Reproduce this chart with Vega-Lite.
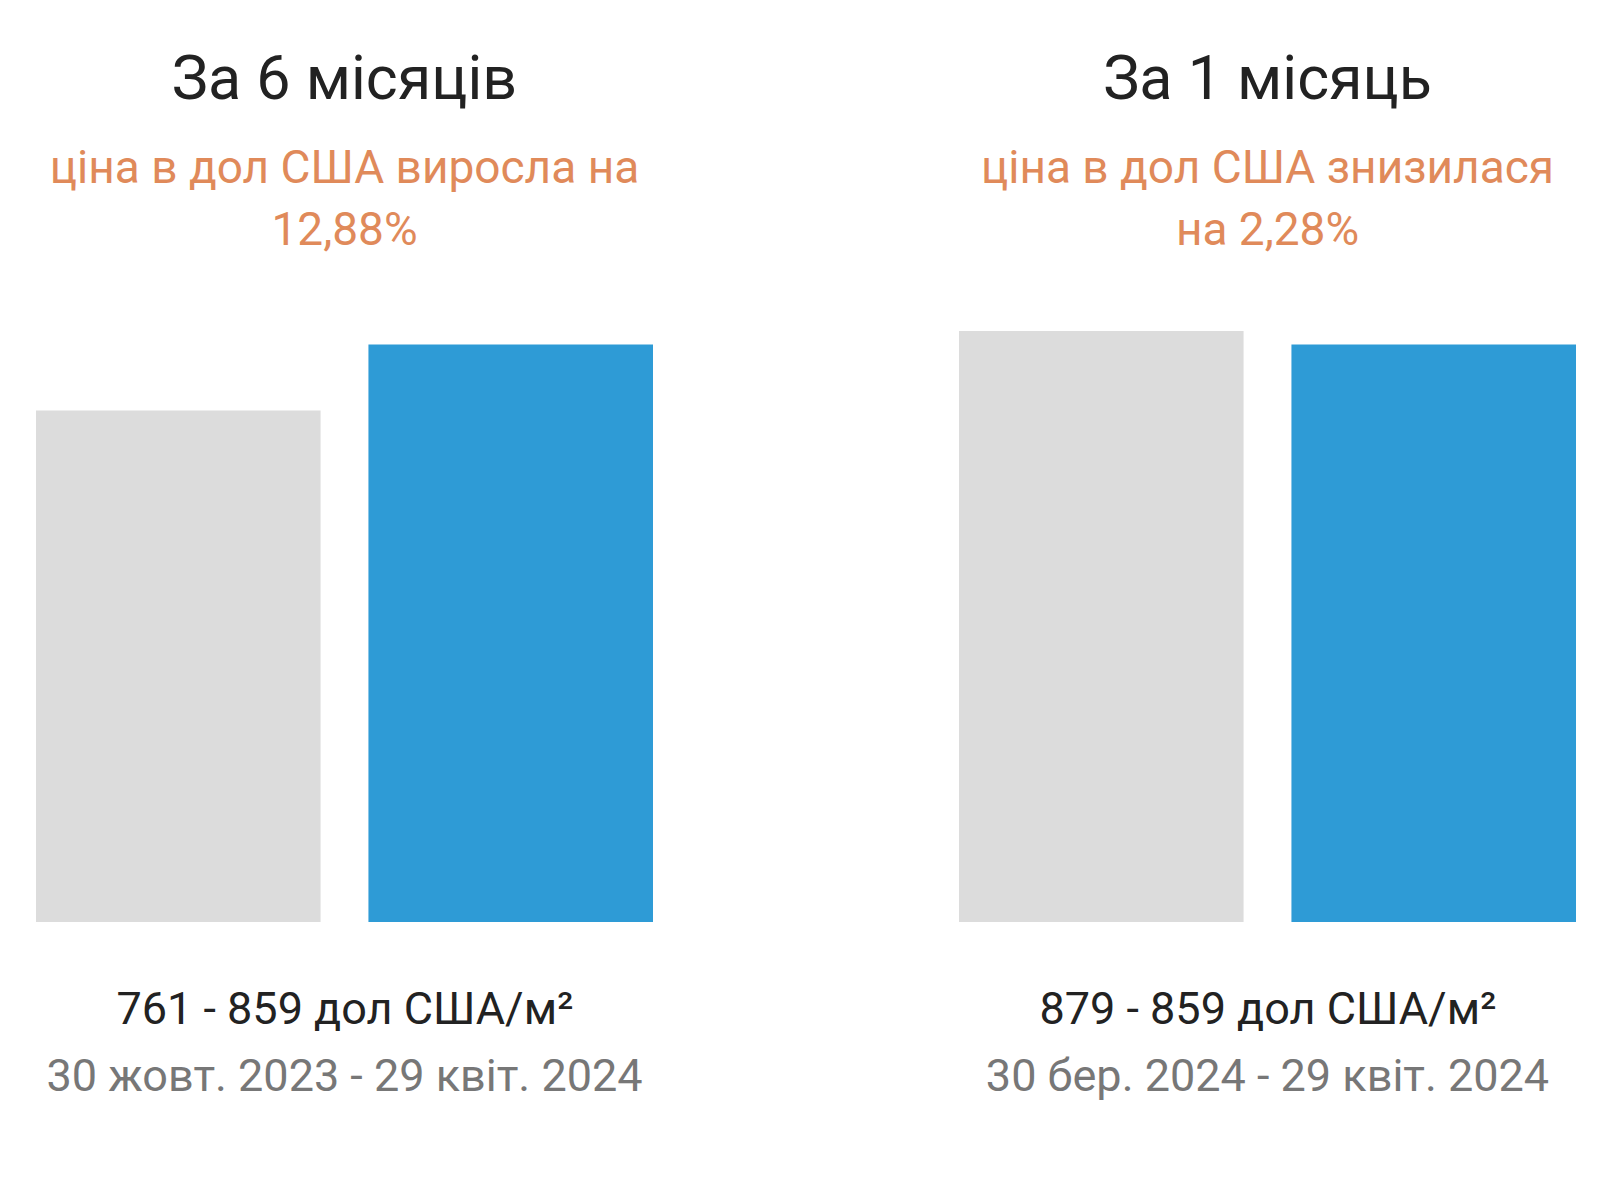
{
  "$schema": "https://vega.github.io/schema/vega-lite/v6.json",
  "background": "white",
  "padding": {"left": 36, "top": 50, "right": 0, "bottom": 30},
  "config": {
    "view": {"stroke": null},
    "font": "Roboto",
    "concat": {"spacing": 306}
  },
  "datasets": {
    "six": [
      {"period": "30 жовт. 2023", "price": 761, "kind": "start"},
      {"period": "29 квіт. 2024", "price": 859, "kind": "end"}
    ],
    "one": [
      {"period": "30 бер. 2024", "price": 879, "kind": "start"},
      {"period": "29 квіт. 2024", "price": 859, "kind": "end"}
    ]
  },
  "hconcat": [
    {
      "title": {"text": "30 жовт. 2023 - 29 квіт. 2024", "orient": "bottom", "anchor": "middle", "fontSize": 45, "fontWeight": "normal", "color": "#777777", "font": "Roboto", "offset": 23},
      "vconcat": [
        {
          "width": 617,
          "height": 605,
          "data": {"name": "six"},
          "title": {
            "text": "За 6 місяців",
            "subtitle": ["ціна в дол США виросла на", "12,88%"],
            "anchor": "middle",
            "fontSize": 61,
            "fontWeight": "normal",
            "color": "#222222",
            "lineHeight": 60,
            "subtitleFontSize": 46,
            "subtitleColor": "#E08A5A",
            "subtitleLineHeight": 62,
            "subtitlePadding": 35,
            "offset": 62
          },
          "mark": {"type": "bar"},
          "encoding": {
            "x": {"field": "period", "type": "nominal", "sort": null,
                  "scale": {"paddingInner": 0.144, "paddingOuter": 0},
                  "axis": {"labels": false, "ticks": false, "domain": false, "title": "761 - 859 дол США/м²", "titleFontSize": 45, "titleFontWeight": "normal", "titleColor": "#222222", "titlePadding": 65, "titleFont": "Roboto"}},
            "y": {"field": "price", "type": "quantitative", "scale": {"domain": [0, 900], "nice": false}, "axis": null},
            "color": {"field": "kind", "type": "nominal", "scale": {"domain": ["start", "end"], "range": ["#DCDCDC", "#2E9BD6"]}, "legend": null}
          }
        }
      ]
    },
    {
      "title": {"text": "30 бер. 2024 - 29 квіт. 2024", "orient": "bottom", "anchor": "middle", "fontSize": 45, "fontWeight": "normal", "color": "#777777", "font": "Roboto", "offset": 23},
      "vconcat": [
        {
          "width": 617,
          "height": 605,
          "data": {"name": "one"},
          "title": {
            "text": "За 1 місяць",
            "subtitle": ["ціна в дол США знизилася", "на 2,28%"],
            "anchor": "middle",
            "fontSize": 61,
            "fontWeight": "normal",
            "color": "#222222",
            "lineHeight": 60,
            "subtitleFontSize": 46,
            "subtitleColor": "#E08A5A",
            "subtitleLineHeight": 62,
            "subtitlePadding": 35,
            "offset": 62
          },
          "mark": {"type": "bar"},
          "encoding": {
            "x": {"field": "period", "type": "nominal", "sort": null,
                  "scale": {"paddingInner": 0.144, "paddingOuter": 0},
                  "axis": {"labels": false, "ticks": false, "domain": false, "title": "879 - 859 дол США/м²", "titleFontSize": 45, "titleFontWeight": "normal", "titleColor": "#222222", "titlePadding": 65, "titleFont": "Roboto"}},
            "y": {"field": "price", "type": "quantitative", "scale": {"domain": [0, 900], "nice": false}, "axis": null},
            "color": {"field": "kind", "type": "nominal", "scale": {"domain": ["start", "end"], "range": ["#DCDCDC", "#2E9BD6"]}, "legend": null}
          }
        }
      ]
    }
  ]
}
